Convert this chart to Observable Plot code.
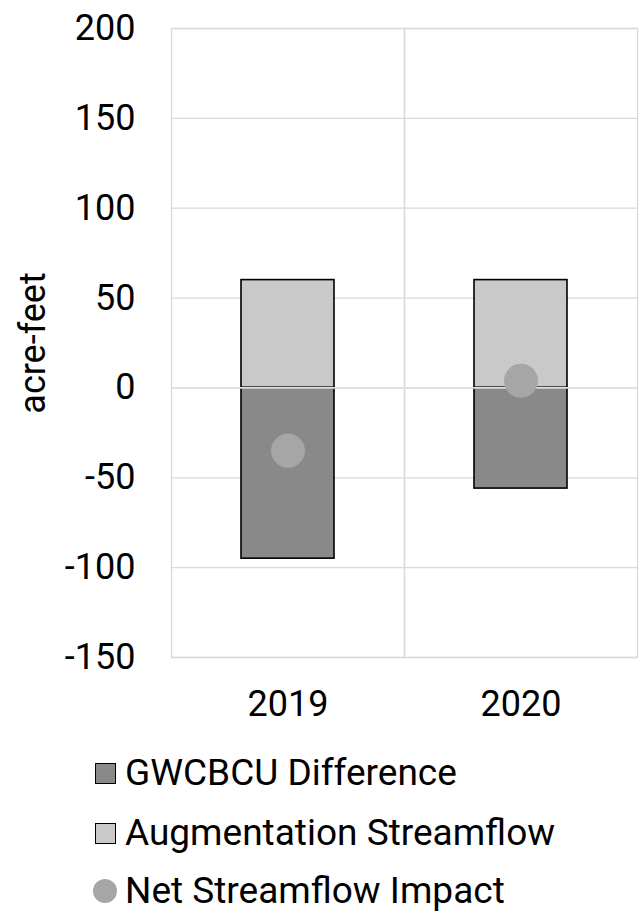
<!DOCTYPE html>
<html><head><meta charset="utf-8">
<script src="https://cdn.jsdelivr.net/npm/d3@7"></script>
<script src="https://cdn.jsdelivr.net/npm/@observablehq/plot@0.6"></script>
<style>
body{margin:0;background:#fff;font-family:Roboto,sans-serif;color:#000;}
#chart svg{display:block;}
.legend{margin:0;padding:0;}
.row{height:60px;display:flex;align-items:center;padding-left:95px;font-size:37px;line-height:0.85;}
.row:last-child{height:56px;}
.sw{display:inline-block;flex:none;width:21px;height:21px;box-sizing:border-box;border:1.6px solid #000;margin-right:9px;}
.sw.dot{width:24px;height:24px;border:none;border-radius:50%;margin-left:-2px;margin-right:8px;}
</style></head><body><div id="chart"></div><div class="legend" id="legend"></div>
<script>
const years = ["2019", "2020"];
const gwcbcuDifference = [-95, -56];
const augmentationStreamflow = [60, 60];
const netStreamflowImpact = [-35, 4];
const yTicks = [200, 150, 100, 50, 0, -50, -100, -150];
const seriesNames = ["GWCBCU Difference", "Augmentation Streamflow", "Net Streamflow Impact"];
const seriesColors = ["#898989", "#c9c9c9", "#a6a6a6"];

const rows = years.map((year, i) => ({
  year, key: "bar",
  gwcbcu: gwcbcuDifference[i],
  aug: augmentationStreamflow[i],
  net: netStreamflowImpact[i]
}));

const chart = Plot.plot({
  width: 643, height: 743,
  marginLeft: 171, marginRight: 6, marginTop: 28, marginBottom: 86,
  style: {fontFamily: "Roboto, sans-serif", fontSize: "36px", color: "#000", background: "#fff"},
  fx: {domain: years, padding: 0},
  x: {domain: ["bar"], paddingInner: 0.6, paddingOuter: 0.3},
  y: {domain: [-150, 200]},
  marks: [
    Plot.gridY(yTicks, {stroke: "#d9d9d9", strokeOpacity: 1, strokeWidth: 1.3}),
    Plot.frame({stroke: "#d9d9d9", strokeWidth: 1.3}),
    Plot.barY(rows, {fx: "year", x: "key", y1: 0, y2: "aug", fill: seriesColors[1], stroke: "#000", strokeWidth: 1.6}),
    Plot.barY(rows, {fx: "year", x: "key", y1: 0, y2: "gwcbcu", fill: seriesColors[0], stroke: "#000", strokeWidth: 1.6}),
    Plot.ruleY([0], {stroke: "#e0e0e0", strokeWidth: 1.8}),
    Plot.dot(rows, {fx: "year", x: "key", y: "net", r: 17, fill: seriesColors[2], stroke: "none"}),
    Plot.axisY(yTicks, {tickSize: 0, tickPadding: 36, fontSize: 36, tickFormat: d => String(d), label: "acre-feet", labelAnchor: "center", labelOffset: 152, labelArrow: "none"}),
    Plot.axisFx({anchor: "bottom", tickSize: 0, tickPadding: 33, fontSize: 36, label: null}),
    Plot.axisX({ticks: [], label: null, tickSize: 0})
  ]
});
document.getElementById("chart").appendChild(chart);

const legend = document.getElementById("legend");
seriesNames.forEach((name, i) => {
  const row = document.createElement("div");
  row.className = "row";
  const sw = document.createElement("span");
  sw.className = i === 2 ? "sw dot" : "sw";
  sw.style.background = seriesColors[i];
  const label = document.createElement("span");
  label.textContent = name;
  row.appendChild(sw);
  row.appendChild(label);
  legend.appendChild(row);
});
</script></body></html>
